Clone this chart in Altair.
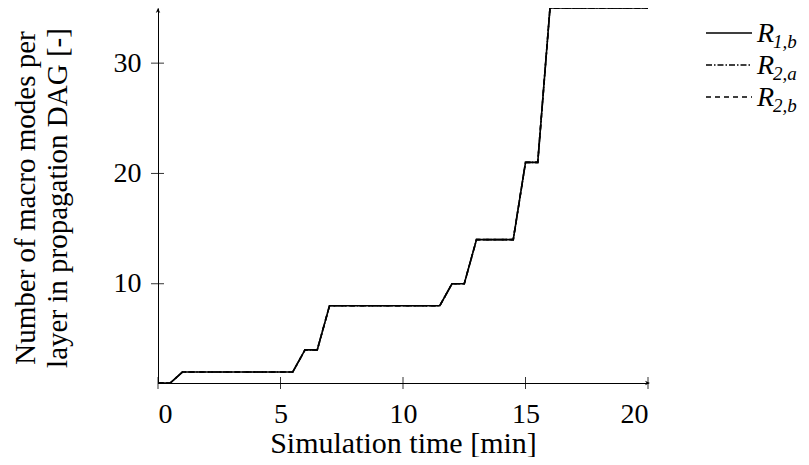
import altair as alt
import pandas as pd

# ---- data ----
time_min = [0, 0.5, 1, 5.5, 6, 6.5, 7, 11.5, 12, 12.5, 13, 14.5, 15, 15.5, 16, 20]
modes_R1b = [1, 1, 2, 2, 4, 4, 8, 8, 10, 10, 14, 14, 21, 21, 35, 35]
modes_R2a = [1, 1, 2, 2, 4, 4, 8, 8, 10, 10, 14, 14, 21, 21, 35, 35]
modes_R2b = [1, 1, 2, 2, 4, 4, 8, 8, 10, 10, 14, 14, 21, 21, 35, 35]
series_names = ["R1,b", "R2,a", "R2,b"]
legend_main = ["R", "R", "R"]
legend_sub = ["1,b", "2,a", "2,b"]
x_ticks = [0, 5, 10, 15, 20]
y_ticks = [10, 20, 30]

FONT = "Liberation Serif"
W, H = 490, 375
dashes = [[1, 0], [6, 2, 1.5, 2], [5, 4]]

rows = []
for name, vals in zip(series_names, [modes_R1b, modes_R2a, modes_R2b]):
    for i, (t, v) in enumerate(zip(time_min, vals)):
        rows.append({"series": name, "time": t, "modes": v, "idx": i})
df = pd.DataFrame(rows)

xscale = alt.Scale(domain=[0, 20], nice=False, zero=False)
yscale = alt.Scale(domain=[1, 35], nice=False, zero=False)

lines = alt.Chart(df).mark_line(color="black", strokeWidth=1.6).encode(
    x=alt.X("time:Q", scale=xscale, axis=alt.Axis(
        values=x_ticks, title="Simulation time [min]", grid=False, ticks=False,
        labelPadding=39, labelBaseline="alphabetic", labelFontSize=28, labelFont=FONT,
        titleFont=FONT, titleFontSize=30, titleFontWeight="normal",
        titleX=W / 2, titleY=69, titleBaseline="alphabetic", titleAlign="center",
        domainColor="black", domainWidth=1, labelColor="black", titleColor="black")),
    y=alt.Y("modes:Q", scale=yscale, axis=alt.Axis(
        values=y_ticks, title=["Number of macro modes per", "layer in propagation DAG [-]"],
        grid=False, ticks=False, labelPadding=17, labelFontSize=28, labelFont=FONT,
        titleFont=FONT, titleFontSize=29, titleFontWeight="normal",
        titleX=-124, titleY=H / 2 + 2, titleAngle=-90, titleBaseline="alphabetic",
        titleAlign="center", titleLineHeight=32,
        domainColor="black", domainWidth=1, labelColor="black", titleColor="black")),
    strokeDash=alt.StrokeDash("series:N", scale=alt.Scale(domain=series_names, range=dashes), legend=None),
    detail="series:N",
    order="idx:Q",
)

xt = alt.Chart(pd.DataFrame({"t": x_ticks})).mark_rule(color="black", strokeWidth=0.8).encode(
    x=alt.X("t:Q", scale=xscale), y=alt.value(H - 6), y2=alt.value(H + 6))
yt = alt.Chart(pd.DataFrame({"v": y_ticks})).mark_rule(color="black", strokeWidth=0.8).encode(
    y=alt.Y("v:Q", scale=yscale), x=alt.value(-7), x2=alt.value(6))

arrow_x = alt.Chart(pd.DataFrame({"a": [0]})).mark_point(
    shape="M0,0L-1,-0.45L-0.7,0L-1,0.45Z", filled=True, color="black", size=100, opacity=1,
    strokeWidth=0).encode(x=alt.value(W + 2), y=alt.value(H))
arrow_y = alt.Chart(pd.DataFrame({"a": [0]})).mark_point(
    shape="M0,0L-0.45,1L0,0.7L0.45,1Z", filled=True, color="black", size=100, opacity=1,
    strokeWidth=0).encode(x=alt.value(0), y=alt.value(0))

leg_layers = []
leg_y = [25, 57, 89]
for i in range(3):
    d = pd.DataFrame({"main": [legend_main[i]], "sub": [legend_sub[i]]})
    base = alt.Chart(d)
    leg_layers.append(base.mark_rule(color="black", strokeWidth=1.4, strokeDash=dashes[i]).encode(
        x=alt.value(548), x2=alt.value(594), y=alt.value(leg_y[i])))
    leg_layers.append(base.mark_text(font=FONT, fontSize=28, fontStyle="italic", align="left",
                                     baseline="alphabetic", color="black").encode(
        text="main:N", x=alt.value(599), y=alt.value(leg_y[i] + 9)))
    leg_layers.append(base.mark_text(font=FONT, fontSize=19, fontStyle="italic", align="left",
                                     baseline="alphabetic", color="black").encode(
        text="sub:N", x=alt.value(615), y=alt.value(leg_y[i] + 15)))

chart = alt.layer(lines, xt, yt, arrow_x, arrow_y, *leg_layers).properties(
    width=W, height=H,
    autosize=alt.AutoSizeParams(type="none"),
    padding={"left": 150, "top": 0, "right": 153, "bottom": 74},
).configure_view(stroke=None)

chart.save("out.html", embed_options={"renderer": "svg", "actions": False})
